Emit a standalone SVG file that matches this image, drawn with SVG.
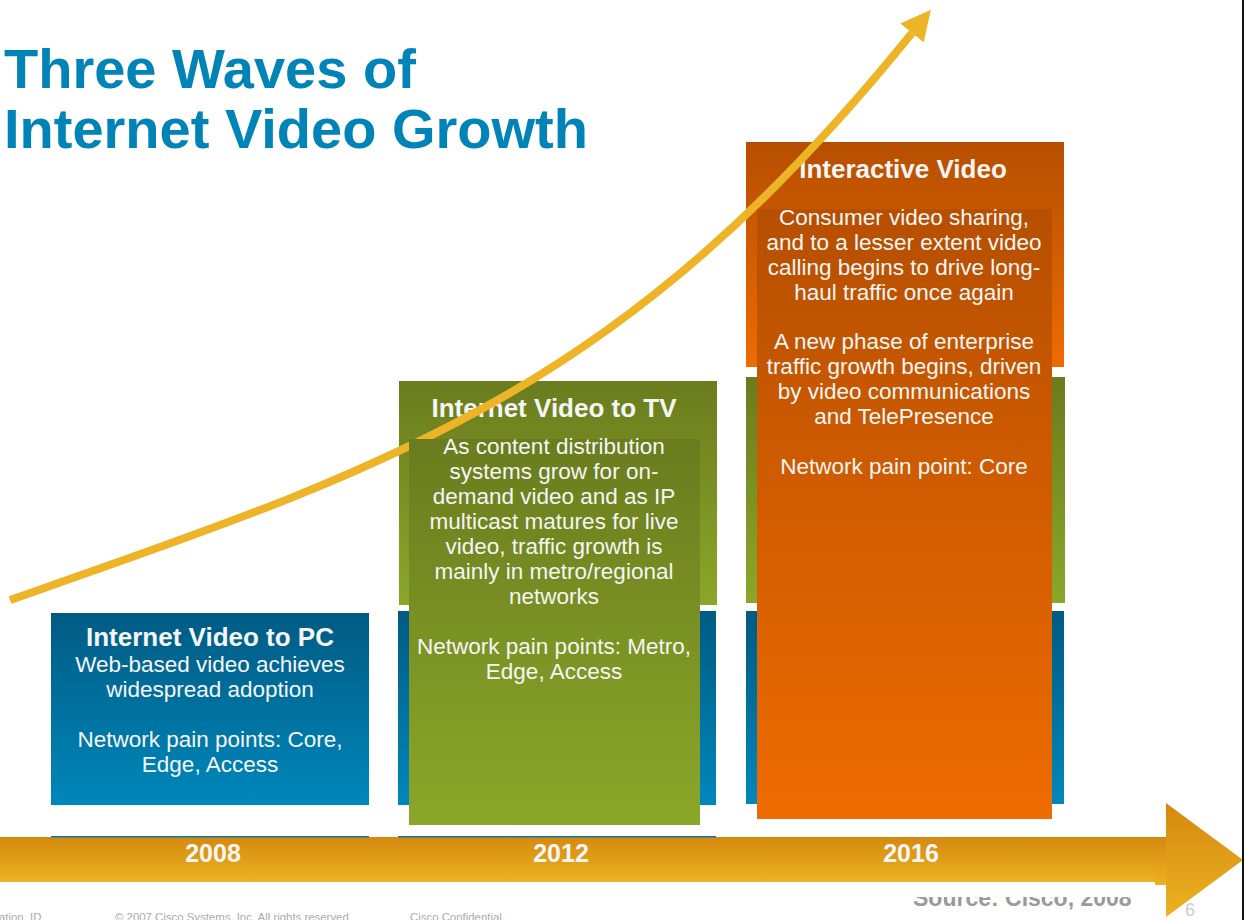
<svg xmlns="http://www.w3.org/2000/svg" width="1246" height="920" viewBox="0 0 1246 920">
  <defs>
    <linearGradient id="gBlue" x1="0" y1="0" x2="0" y2="1">
      <stop offset="0" stop-color="#005B83"/>
      <stop offset="1" stop-color="#0087BB"/>
    </linearGradient>
    <linearGradient id="gGreen" x1="0" y1="0" x2="0" y2="1">
      <stop offset="0" stop-color="#6A7C1E"/>
      <stop offset="1" stop-color="#8BA729"/>
    </linearGradient>
    <linearGradient id="gOrange" x1="0" y1="0" x2="0" y2="1">
      <stop offset="0" stop-color="#B64F00"/>
      <stop offset="1" stop-color="#EE6B00"/>
    </linearGradient>
    <linearGradient id="gTime" x1="0" y1="0" x2="0" y2="1">
      <stop offset="0" stop-color="#D5890F"/>
      <stop offset="1" stop-color="#ECB222"/>
    </linearGradient>
    <marker id="head" markerUnits="userSpaceOnUse" markerWidth="30" markerHeight="30" viewBox="0 0 30 30" refX="0" refY="15" orient="auto">
      <path d="M0,0 L30,15 L0,30 Z" fill="#EEB428"/>
    </marker>
    <clipPath id="srcClip">
      <rect x="880" y="897" width="300" height="23"/>
    </clipPath>
    <style>
      .t { font-family: "Liberation Sans", Arial, sans-serif; fill: #F5F5F5; text-anchor: middle; }
      .h { font-size: 26px; font-weight: bold; }
      .b { font-size: 22.5px; }
      .yr { font-family: "Liberation Sans", Arial, sans-serif; font-size: 25px; font-weight: bold; fill: #F5F5F5; text-anchor: middle; }
      .title { font-family: "Liberation Sans", Arial, sans-serif; font-size: 56px; font-weight: bold; fill: #0083B7; }
      .foot { font-family: "Liberation Sans", Arial, sans-serif; font-size: 11.4px; fill: #AAAAAA; }
      .edge { fill: #0A78A6; }
    </style>
  </defs>

  <rect width="1246" height="920" fill="#FFFFFF"/>

  <g id="title">
    <text class="title" x="4" y="88">Three Waves of</text>
    <text class="title" x="4" y="148">Internet Video Growth</text>
  </g>

  <g id="timeline">
    <rect x="0" y="837" width="1167" height="45" fill="url(#gTime)"/>
    <rect x="1155" y="837" width="12" height="48" fill="url(#gTime)"/>
    <polygon points="1166,803 1243,860 1166,917" fill="url(#gTime)"/>
    <rect class="edge" x="51" y="836" width="318" height="1.5"/>
    <rect class="edge" x="398" y="836" width="318" height="1.5"/>
    <text class="yr" x="213" y="862">2008</text>
    <text class="yr" x="561" y="862">2012</text>
    <text class="yr" x="911" y="862">2016</text>
  </g>

  <g id="node-pc">
    <rect x="51" y="613" width="318" height="192" fill="url(#gBlue)"/>
    <text class="t h" x="210" y="646">Internet Video to PC</text>
    <text class="t b" x="210" y="672">Web-based video achieves</text>
    <text class="t b" x="210" y="697">widespread adoption</text>
    <text class="t b" x="210" y="747">Network pain points: Core,</text>
    <text class="t b" x="210" y="772">Edge, Access</text>
  </g>

  <g id="node-tv">
    <rect x="398" y="611" width="318" height="194" fill="url(#gBlue)"/>
    <rect x="399" y="381" width="318" height="224" fill="url(#gGreen)"/>
    <text class="t h" x="554" y="417">Internet Video to TV</text>
  </g>

  <g id="node-interactive">
    <rect x="746" y="611" width="318" height="193" fill="url(#gBlue)"/>
    <rect x="746" y="377" width="319" height="226" fill="url(#gGreen)"/>
    <rect x="746" y="142" width="318" height="225" fill="url(#gOrange)"/>
    <text class="t h" x="903" y="178">Interactive Video</text>
  </g>

  <g id="connectors">
    <path d="M10,600 C390,467 620,394.5 912,33" fill="none" stroke="#EEB428" stroke-width="8" marker-end="url(#head)"/>
  </g>

  <g id="node-tv-detail">
    <rect x="409" y="439" width="291" height="386" fill="url(#gGreen)"/>
    <text class="t b" x="554" y="454">As content distribution</text>
    <text class="t b" x="554" y="479">systems grow for on-</text>
    <text class="t b" x="554" y="504">demand video and as IP</text>
    <text class="t b" x="554" y="529">multicast matures for live</text>
    <text class="t b" x="554" y="554">video, traffic growth is</text>
    <text class="t b" x="554" y="579">mainly in metro/regional</text>
    <text class="t b" x="554" y="604">networks</text>
    <text class="t b" x="554" y="654">Network pain points: Metro,</text>
    <text class="t b" x="554" y="679">Edge, Access</text>
  </g>

  <g id="node-interactive-detail">
    <rect x="757" y="209" width="295" height="610" fill="url(#gOrange)"/>
    <text class="t b" x="904" y="225">Consumer video sharing,</text>
    <text class="t b" x="904" y="250">and to a lesser extent video</text>
    <text class="t b" x="904" y="275">calling begins to drive long-</text>
    <text class="t b" x="904" y="300">haul traffic once again</text>
    <text class="t b" x="904" y="349">A new phase of enterprise</text>
    <text class="t b" x="904" y="374">traffic growth begins, driven</text>
    <text class="t b" x="904" y="399">by video communications</text>
    <text class="t b" x="904" y="424">and TelePresence</text>
    <text class="t b" x="904" y="474">Network pain point: Core</text>
  </g>

  <g id="footer">
    <text x="913" y="906" clip-path="url(#srcClip)" font-family="Liberation Sans, Arial, sans-serif" font-size="23" font-weight="bold" fill="#9A9A9A">Source: Cisco, 2008</text>
    <text class="foot" x="-1" y="921">ation_ID</text>
    <text class="foot" x="115" y="921">© 2007 Cisco Systems, Inc. All rights reserved.</text>
    <text class="foot" x="410" y="921">Cisco Confidential</text>
    <text x="1185" y="916" font-family="Liberation Sans, Arial, sans-serif" font-size="18" fill="#CCCCCC">6</text>
    <rect x="1242" y="0" width="2" height="920" fill="#111111"/>
  </g>
</svg>
